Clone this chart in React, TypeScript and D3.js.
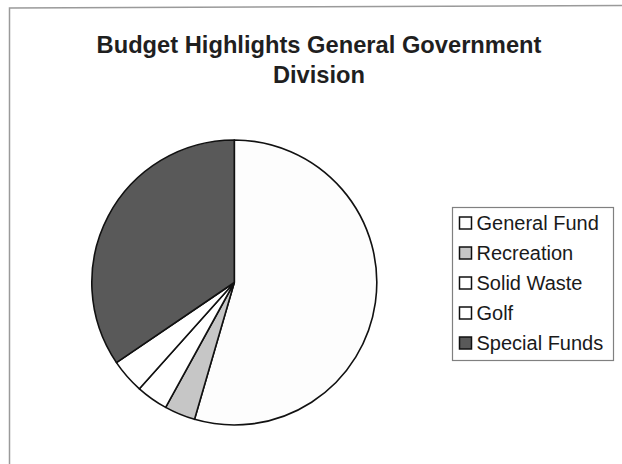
import React from "react";
import * as d3 from "d3";

const categories = ["General Fund", "Recreation", "Solid Waste", "Golf", "Special Funds"];
const values = [54.5, 3.5, 3.6, 3.9, 34.5];
const colors = ["#fdfdfd", "#c6c6c6", "#ffffff", "#ffffff", "#595959"];
const titleLines = ["Budget Highlights General Government", "Division"];

const W = 622;
const H = 464;

export default function App() {
  const cx = 234.3;
  const cy = 282.5;
  const r = 142.5;
  const pie = d3.pie<number>().sort(null).value((d) => d);
  const arcs = pie(values);
  const arc = d3.arc<d3.PieArcDatum<number>>().innerRadius(0).outerRadius(r);
  const legendX = 452;
  const legendY = 207;
  const rowH = 30;
  const legendW = 161;
  const legendH = 153;
  const font = "Arial, 'Liberation Sans', sans-serif";
  return (
    <svg
      width={W}
      height={H}
      style={{ position: "absolute", left: 0, top: 0, background: "#fff" }}
    >
      <rect x={0} y={0} width={W} height={H} fill="#fff" />
      <path d={`M9.5,${H} L9.5,8 L${W},5.5`} fill="none" stroke="#9a9a9a" strokeWidth={1.5} />
      {titleLines.map((t, i) => (
        <text
          key={i}
          x={319}
          y={45 + i * 30}
          textAnchor="middle"
          dominantBaseline="central"
          fontFamily={font}
          fontWeight="bold"
          fontSize={23.7}
          fill="#1f1f1f"
        >
          {t}
        </text>
      ))}
      <g transform={`translate(${cx},${cy})`}>
        {arcs.map((a, i) => (
          <path key={i} d={arc(a) || ""} fill={colors[i]} stroke="#111" strokeWidth={1.6} strokeLinejoin="round" />
        ))}
      </g>
      <rect x={legendX + 0.5} y={legendY + 0.5} width={legendW} height={legendH} fill="#fff" stroke="#808080" strokeWidth={1.2} />
      {categories.map((c, i) => {
        const y = legendY + 16 + i * rowH;
        return (
          <g key={c}>
            <rect x={legendX + 7.5} y={y - 6} width={12} height={12} fill={colors[i]} stroke="#111" strokeWidth={1.5} />
            <text
              x={legendX + 24.5}
              y={y}
              dominantBaseline="central"
              fontFamily={font}
              fontSize={20}
              fill="#1a1a1a"
            >
              {c}
            </text>
          </g>
        );
      })}
    </svg>
  );
}
